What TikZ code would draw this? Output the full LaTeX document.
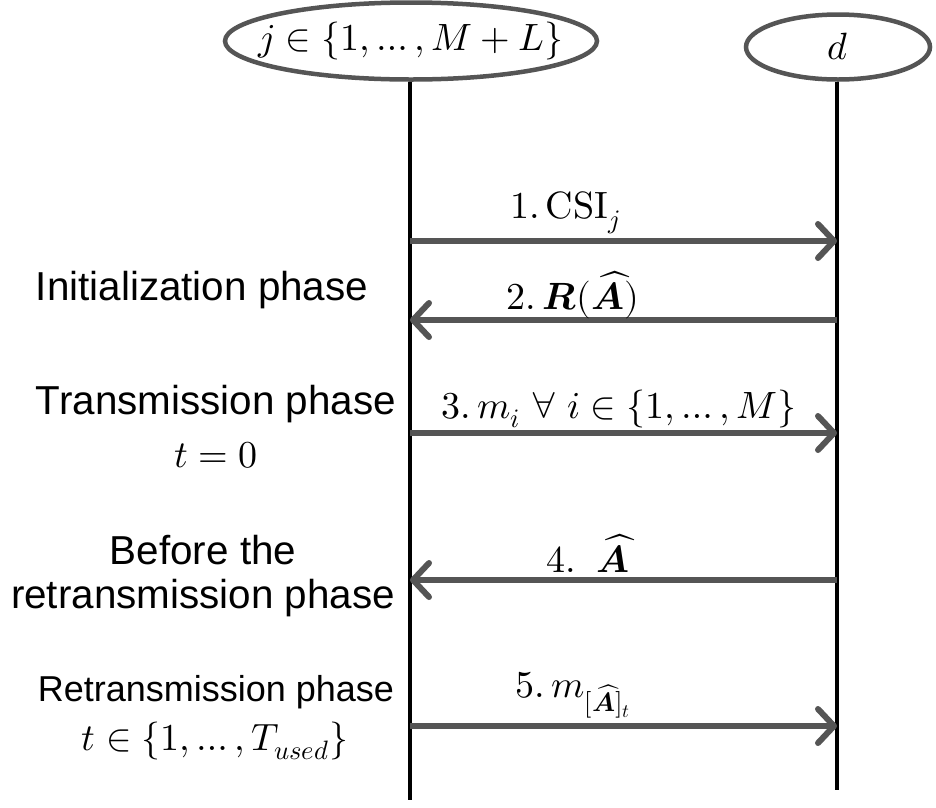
\documentclass[tikz,border=0pt]{standalone}
\usepackage{amsmath}
\usepackage{fontspec}
\usepackage{unicode-math}
\setmainfont{Liberation Sans}
\setmathfont{Latin Modern Math}
\usetikzlibrary{arrows.meta,shapes.geometric}
\definecolor{arrowgray}{HTML}{555555}
\tikzset{
  actor/.style={ellipse, draw=arrowgray, line width=4.5pt, inner sep=0pt},
  lifeline/.style={line width=4pt, black},
  msg/.style={line width=6pt, arrowgray, -{Straight Barb[length=16pt,width=34pt,line width=6pt,round]}},
  lbl/.style={font=\fontsize{38}{46}\selectfont, inner sep=0pt},
  phase/.style={font=\fontsize{40.4}{48}\selectfont, align=center, inner sep=0pt},
  phasesmall/.style={font=\fontsize{36}{44}\selectfont, align=center, inner sep=0pt}
}
\begin{document}
\begin{tikzpicture}[x=1pt,y=-1pt]
\useasboundingbox (0,0) rectangle (936,807);
\node[actor, minimum width=372pt, minimum height=77pt] (j) at (411,41) {};
\node[lbl] (jt) at (j.center) {$j\in\{1,\dots,M+L\}$};
\node[actor, minimum width=184pt, minimum height=65pt] (d) at (838,47) {};
\node[lbl] (dt) at (d.center) {$d$};
\coordinate (jb) at (410,800);
\coordinate (db) at (837,790);
\draw[lifeline] (j.south -| jb) -- (jb);
\draw[lifeline] (d.south -| db) -- (db);
% message anchors
\coordinate (j1) at (410,241); \coordinate (d1) at (837,241);
\coordinate (j2) at (410,320); \coordinate (d2) at (837,320);
\coordinate (j3) at (410,433); \coordinate (d3) at (837,433);
\coordinate (j4) at (410,580); \coordinate (d4) at (837,580);
\coordinate (j5) at (410,726); \coordinate (d5) at (837,726);
\draw[msg] (j1) -- (d1);
\draw[msg] (d2) -- (j2);
\draw[msg] (j3) -- (d3);
\draw[msg] (d4) -- (j4);
\draw[msg] (j5) -- (d5);
\node[lbl] (m1) at (565,213) {$1.\,\symup{CSI}_j$};
\node[lbl] (m2) at (573,295) {$2.\,\symbfit{R}(\widehat{\symbfit{A}})$};
\node[lbl] (m3) at (619,409) {$3.\,m_i\ \forall\ i\in\{1,\dots,M\}$};
\node[lbl] (m4) at (588,553) {$4.\ \ \widehat{\symbfit{A}}$};
\node[lbl] (m5) at (573,695) {$5.\,m_{[\widehat{\symbfit{A}}]_t}$};
\node[phase] (p1) at (202,290) {Initialization phase};
\node[phase] (p2) at (216,404) {Transmission phase};
\node[lbl] (p2b) at (216,455) {$t=0$};
\node[phase] (p3) at (203,550) {Before the};
\node[phase] (p4) at (203,598) {retransmission phase};
\node[phasesmall] (p5) at (216,692) {Retransmission phase};
\node[lbl] (p5b) at (215,741) {$t\in\{1,\dots,T_{used}\}$};
\end{tikzpicture}
\end{document}
